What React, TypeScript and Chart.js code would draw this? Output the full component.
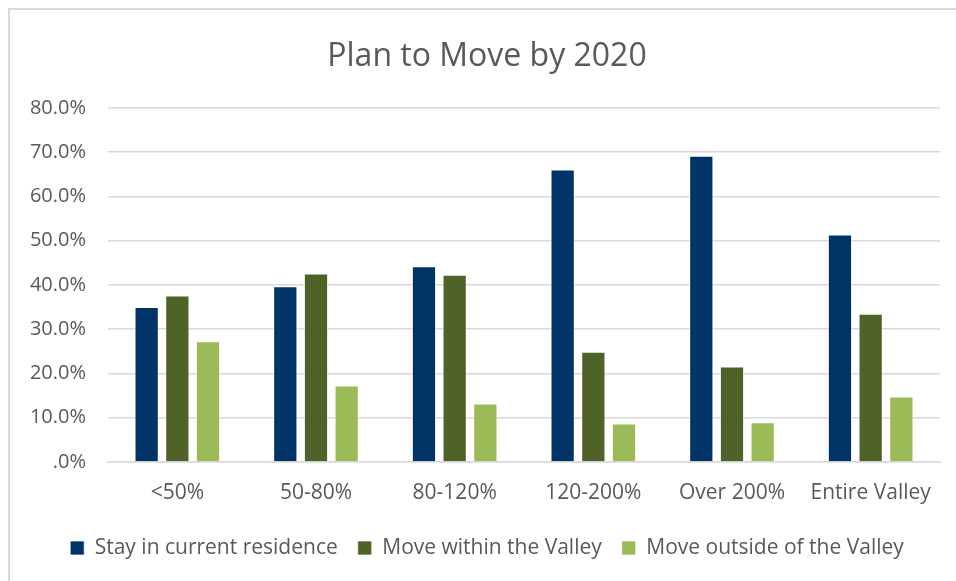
import React, { useEffect, useRef } from "react";
import { Chart, registerables } from "chart.js";

Chart.register(...registerables);

const categories = ["<50%", "50-80%", "80-120%", "120-200%", "Over 200%", "Entire Valley"];
const stayValues = [35.0, 39.7, 44.2, 66.1, 69.2, 51.4];
const withinValues = [37.6, 42.6, 42.3, 24.9, 21.6, 33.5];
const outsideValues = [27.3, 17.3, 13.2, 8.7, 9.0, 14.8];
const seriesNames = ["Stay in current residence", "Move within the Valley", "Move outside of the Valley"];
const yTicks = [0, 10, 20, 30, 40, 50, 60, 70, 80];

const FONT = "'Open Sans', 'Noto Sans', sans-serif";
const TEXT = "#595959";

export default function App() {
  const ref = useRef<HTMLCanvasElement | null>(null);

  useEffect(() => {
    if (!ref.current) return;
    const mk = (label: string, data: number[], color: string) => ({
      label,
      data,
      backgroundColor: color,
      borderColor: "rgba(255,255,255,0.7)",
      borderWidth: 1,
      categoryPercentage: 0.664,
      barPercentage: 0.79,
      yAxisID: "y",
    });
    const chart = new Chart(ref.current, {
      type: "bar",
      data: {
        labels: categories,
        datasets: [
          mk(seriesNames[0], stayValues, "#003366"),
          mk(seriesNames[1], withinValues, "#4F6228"),
          mk(seriesNames[2], outsideValues, "#9BBB59"),
        ],
      },
      options: {
        animation: false,
        responsive: false,
        maintainAspectRatio: false,
        layout: { padding: { left: 10, right: -8, top: 0, bottom: 12.5 } },
        plugins: {
          title: {
            display: true,
            text: "Plan to Move by 2020",
            color: TEXT,
            font: { family: FONT, size: 32, weight: "normal" },
            padding: { top: 38, bottom: 31.5 },
          },
          legend: {
            position: "bottom",
            labels: {
              color: TEXT,
              font: { family: FONT, size: 21 },
              boxWidth: 14,
              boxHeight: 14,
              padding: 20,
            },
          },
          tooltip: { enabled: false },
        },
        scales: {
          x: {
            grid: { display: false, drawTicks: false },
            border: { display: true, color: "#D9D9D9", width: 1.5 },
            ticks: { color: TEXT, font: { family: FONT, size: 21 }, padding: 18 },
            afterFit: (s: any) => { s.height = 55.5; },
          },
          y: {
            position: "left",
            min: 0,
            max: 80,
            afterBuildTicks: (s: any) => { s.ticks = yTicks.map((v) => ({ value: v })); },
            grid: { color: "#D9D9D9", lineWidth: 1.5, drawTicks: false },
            border: { display: false },
            ticks: {
              color: TEXT,
              font: { family: FONT, size: 20 },
              padding: 22,
              callback: (v: any) => (Number(v) === 0 ? ".0%" : Number(v).toFixed(1) + "%"),
            },
            afterFit: (s: any) => { s.width = 98; },
          },
          spacer: {
            type: "linear",
            position: "right",
            min: 0,
            max: 80,
            grid: { display: false, drawTicks: false },
            border: { display: false },
            ticks: { display: false },
            afterFit: (s: any) => { s.width = 24; },
          },
        },
      },
    });
    return () => chart.destroy();
  }, []);

  return (
    <div style={{ position: "fixed", left: 0, top: 0, width: 956, height: 581, background: "#fff", overflow: "hidden" }}>
      <div
        style={{
          position: "absolute",
          left: 8,
          top: 8,
          width: 970,
          height: 600,
          borderTop: "2px solid #D9D9D9",
          borderLeft: "2px solid #D9D9D9",
        }}
      />
      <canvas ref={ref} width={956} height={581} style={{ position: "absolute", left: 0, top: 0, width: 956, height: 581 }} />
    </div>
  );
}
